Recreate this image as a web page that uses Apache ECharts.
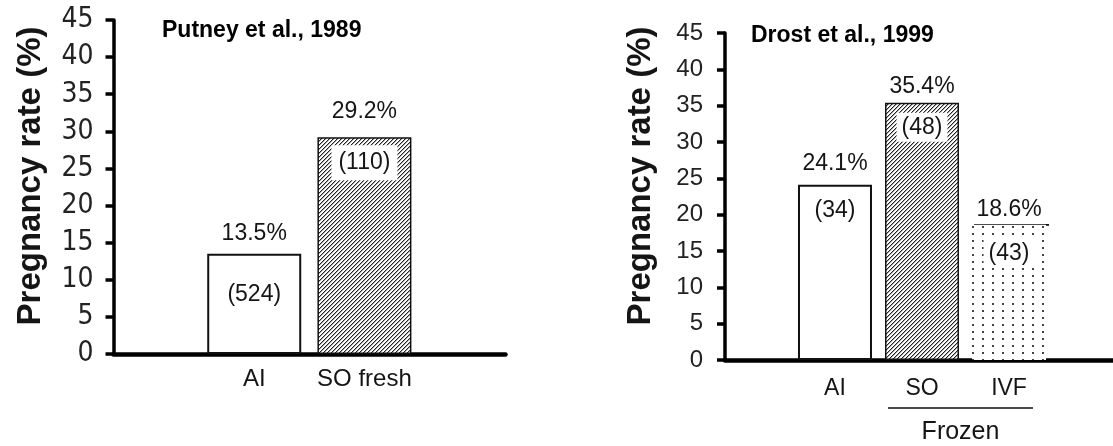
<!DOCTYPE html>
<html>
<head>
<meta charset="utf-8">
<script src="https://cdn.jsdelivr.net/npm/echarts@6/dist/echarts.min.js"></script>
<style>
html,body{margin:0;padding:0;background:#fff;}
#chart{width:1113px;height:446px;}
</style>
</head>
<body>
<div id="chart"></div>
<script>
// ---------- data ----------
const leftTitle = 'Putney et al., 1989';
const leftCategories = ['AI', 'SO fresh'];
const leftRates = [13.5, 29.2];
const leftCounts = [524, 110];

const rightTitle = 'Drost et al., 1999';
const rightCategories = ['AI', 'SO', 'IVF'];
const rightRates = [24.1, 35.4, 18.6];
const rightCounts = [34, 48, 43];

const groupLabel = 'Frozen';
const groupMembers = ['SO', 'IVF'];

const yAxisName = 'Pregnancy rate (%)';
const yMin = 0, yMax = 45, yStep = 5;

// ---------- styles ----------
const FONT = '"Liberation Sans", Arial, sans-serif';
const NARROW = '"Liberation Sans Narrow", "DejaVu Sans Condensed", "Liberation Sans", sans-serif';
const INK = '#151515';

function makeHatch() {
  const c = document.createElement('canvas');
  c.width = 4; c.height = 4;
  const g = c.getContext('2d');
  g.fillStyle = '#ffffff'; g.fillRect(0, 0, 4, 4);
  g.fillStyle = '#222222';
  for (let i = 0; i < 4; i++) g.fillRect(i, 3 - i, 1, 1);
  g.fillStyle = '#aaaaaa';
  for (let i = 0; i < 4; i++) g.fillRect((i + 1) % 4, 3 - i, 1, 1);
  return c;
}
function makeDots() {
  const c = document.createElement('canvas');
  c.width = 10; c.height = 7;
  const g = c.getContext('2d');
  g.fillStyle = '#ffffff'; g.fillRect(0, 0, 10, 7);
  g.fillStyle = '#444444';
  g.fillRect(2, 2, 2, 2);
  return c;
}
const hatchFill = { image: makeHatch(), repeat: 'repeat' };
const dotFill = { image: makeDots(), repeat: 'repeat' };

const openStyle = { color: '#ffffff', borderColor: '#111', borderWidth: 2 };
const hatchStyle = { color: hatchFill, borderColor: '#111', borderWidth: 1.5 };
const dotStyle = { color: dotFill, borderWidth: 0 };

const leftStyles = [openStyle, hatchStyle];
const rightStyles = [openStyle, hatchStyle, dotStyle];
const leftRateGap = [9, 14];
const rightRateGap = [10, 5, 4];
const leftCountGap = [29, 8];
const rightCountGap = [14, 10, 14];
const leftCountPad = [0, [6, 7]];
const rightCountPad = [0, [3, 5], [3, 5]];
const leftCountBg = [null, '#ffffff'];
const rightCountBg = [null, '#ffffff', '#ffffff'];

// ---------- helpers ----------
function pos(i) { return i + 1; }

function barSeries(gridIdx, rates, styles, gaps, barWidth) {
  return {
    type: 'bar',
    xAxisIndex: gridIdx, yAxisIndex: gridIdx,
    barWidth: barWidth,
    barGap: '-100%',
    data: rates.map((v, i) => ({
      value: [pos(i), v],
      itemStyle: styles[i],
      label: { distance: gaps[i] }
    })),
    label: {
      show: true, position: 'top',
      formatter: p => p.value[1].toFixed(1) + '%',
      fontFamily: FONT, fontSize: 23, color: INK
    },
    silent: true, animation: false
  };
}
function countSeries(gridIdx, rates, counts, gaps, bgs, pads, barWidth) {
  return {
    type: 'bar',
    xAxisIndex: gridIdx, yAxisIndex: gridIdx,
    barWidth: barWidth,
    barGap: '-100%',
    itemStyle: { color: 'rgba(0,0,0,0)' },
    data: rates.map((v, i) => ({
      value: [pos(i), v],
      label: {
        distance: gaps[i],
        backgroundColor: bgs[i] || 'transparent',
        padding: pads[i],
        formatter: '(' + counts[i] + ')'
      }
    })),
    label: {
      show: true, position: 'insideTop',
      fontFamily: FONT, fontSize: 23, color: INK
    },
    silent: true, animation: false
  };
}
function yAxisCfg(gridIdx, margin, namePad, nameGap, tickFont, tickSize) {
  return {
    gridIndex: gridIdx,
    type: 'value', min: yMin, max: yMax, interval: yStep,
    name: yAxisName, nameLocation: 'middle', nameGap: nameGap,
    nameTextStyle: { fontFamily: FONT, fontSize: 33, fontWeight: 'bold', color: INK, padding: [0, 0, 0, namePad] },
    axisLine: { show: true, onZero: false, lineStyle: { color: '#000', width: 3.5 } },
    axisTick: { show: true, length: 8, inside: false, lineStyle: { color: '#000', width: 3.5 } },
    axisLabel: { margin: margin, fontFamily: tickFont, fontSize: tickSize, color: '#222' },
    splitLine: { show: false }
  };
}
function xAxisCfg(gridIdx, cats, min, max, margin, fontSize) {
  return {
    gridIndex: gridIdx,
    type: 'value', min: min, max: max,
    axisLine: { show: true, onZero: true, lineStyle: { color: '#000', width: 4.5 } },
    axisTick: { show: false },
    splitLine: { show: false },
    axisLabel: {
      customValues: cats.map((c, i) => pos(i)),
      formatter: v => cats[Math.round(v) - 1] || '',
      margin: margin, fontFamily: FONT, fontSize: fontSize, color: INK
    }
  };
}

// ---------- build ----------
const ivfIdx = rightCategories.indexOf('IVF');
const groupIdx = groupMembers.map(m => rightCategories.indexOf(m));

const option = {
  backgroundColor: '#ffffff',
  animation: false,
  title: [
    { text: leftTitle, left: 157, top: 14, textStyle: { fontFamily: FONT, fontSize: 23, fontWeight: 'bold', color: '#000' } },
    { text: rightTitle, left: 746, top: 19, textStyle: { fontFamily: FONT, fontSize: 23, fontWeight: 'bold', color: '#000' } }
  ],
  grid: [
    { left: 113.5, top: 20, width: 392, height: 334 },
    { left: 725, top: 33, width: 388, height: 327 }
  ],
  xAxis: [
    xAxisCfg(0, leftCategories, -0.277, 3.28, 13, 24),
    xAxisCfg(1, rightCategories, -0.264, 4.195, 17, 23)
  ],
  yAxis: [
    yAxisCfg(0, 20, 22, 66, NARROW, 28),
    yAxisCfg(1, 22, 41, 68, FONT, 24)
  ],
  series: [
    barSeries(0, leftRates, leftStyles, leftRateGap, 94),
    countSeries(0, leftRates, leftCounts, leftCountGap, leftCountBg, leftCountPad, 94),
    barSeries(1, rightRates, rightStyles, rightRateGap, 74),
    countSeries(1, rightRates, rightCounts, rightCountGap, rightCountBg, rightCountPad, 74),
    {
      // top rule over the IVF bar
      type: 'custom', xAxisIndex: 1, yAxisIndex: 1, silent: true,
      data: [[pos(ivfIdx), rightRates[ivfIdx]]],
      renderItem: function (params, api) {
        const p = api.coord([api.value(0), api.value(1)]);
        return { type: 'line', shape: { x1: p[0] - 35, y1: p[1], x2: p[0] + 40, y2: p[1] },
                 style: { stroke: '#111', lineWidth: 1.6 } };
      }
    },
    {
      // "Frozen" bracket below the SO and IVF categories
      type: 'custom', xAxisIndex: 1, yAxisIndex: 1, silent: true, clip: false,
      data: [[pos(groupIdx[0]), pos(groupIdx[groupIdx.length - 1])]],
      renderItem: function (params, api) {
        const a = api.coord([api.value(0), 0]);
        const b = api.coord([api.value(1), 0]);
        const x1 = a[0] - 34, x2 = b[0] + 24, y = a[1] + 48;
        return {
          type: 'group',
          children: [
            { type: 'line', shape: { x1: x1, y1: y, x2: x2, y2: y }, style: { stroke: '#111', lineWidth: 1.5 } },
            { type: 'text', x: (x1 + x2) / 2, y: y + 24,
              style: { text: groupLabel, fontFamily: FONT, fontSize: 25, fill: INK, align: 'center', verticalAlign: 'middle' } }
          ]
        };
      }
    }
  ]
};

const chart = echarts.init(document.getElementById('chart'), null, { renderer: 'canvas' });
chart.setOption(option);
</script>
</body>
</html>
